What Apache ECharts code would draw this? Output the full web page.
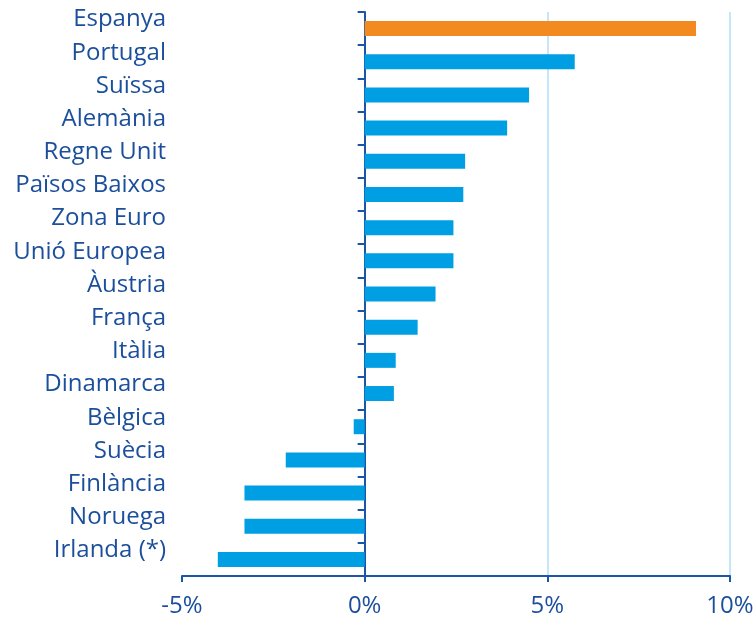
<!DOCTYPE html>
<html>
<head>
<meta charset="utf-8">
<script src="https://cdn.jsdelivr.net/npm/echarts@6/dist/echarts.min.js"></script>
<style>
  html, body { margin: 0; padding: 0; background: #fff; }
  #chart { width: 756px; height: 619px; }
</style>
</head>
<body>
<div id="chart"></div>
<script>
// països, de dalt a baix
const countries = ['Espanya', 'Portugal', 'Suïssa', 'Alemània', 'Regne Unit', 'Països Baixos',
  'Zona Euro', 'Unió Europea', 'Àustria', 'França', 'Itàlia', 'Dinamarca', 'Bèlgica',
  'Suècia', 'Finlància', 'Noruega', 'Irlanda (*)']
const values = [9.07, 5.75, 4.5, 3.9, 2.75, 2.7, 2.43, 2.43, 1.94, 1.45, 0.85, 0.8, -0.3,
  -2.16, -3.29, -3.29, -4.02]
const highlight = 'Espanya'

const axisBlue = '#1a56a5'
const textBlue = '#1b4f9c'

let chart = echarts.init(document.getElementById('chart'))

let option = {
  animation: false,
  textStyle: { fontFamily: 'Open Sans' },
  grid: {
    left: 182,
    right: 26,
    top: 12,
    bottom: 43,
    containLabel: false,
    outerBoundsMode: 'none'
  },
  xAxis: {
    type: 'value',
    min: -5,
    max: 10,
    interval: 5,
    axisLine: {
      show: true,
      onZero: false,
      lineStyle: { color: axisBlue, width: 2 }
    },
    axisTick: {
      show: true,
      length: 6,
      lineStyle: { color: axisBlue, width: 2 }
    },
    axisLabel: {
      color: textBlue,
      fontSize: 24,
      margin: 18,
      formatter: v => v + '%'
    },
    splitLine: {
      show: true,
      lineStyle: {
        color: ['transparent', 'transparent', '#c3e7f8', '#c3e7f8'],
        width: 2
      }
    }
  },
  yAxis: {
    type: 'category',
    inverse: true,
    data: countries,
    axisLine: {
      show: true,
      onZero: true,
      lineStyle: { color: axisBlue, width: 2 }
    },
    axisTick: {
      show: true,
      length: 7,
      lineStyle: { color: axisBlue, width: 2 }
    },
    axisLabel: {
      color: textBlue,
      fontSize: 24,
      lineHeight: 18,
      margin: 16,
      verticalAlign: 'bottom'
    }
  },
  series: [
    {
      type: 'bar',
      barWidth: 15,
      data: values.map((v, i) => ({
        value: v,
        itemStyle: { color: countries[i] === highlight ? '#f28a1f' : '#009fe3' }
      }))
    }
  ]
}
chart.setOption(option)
</script>
</body>
</html>
